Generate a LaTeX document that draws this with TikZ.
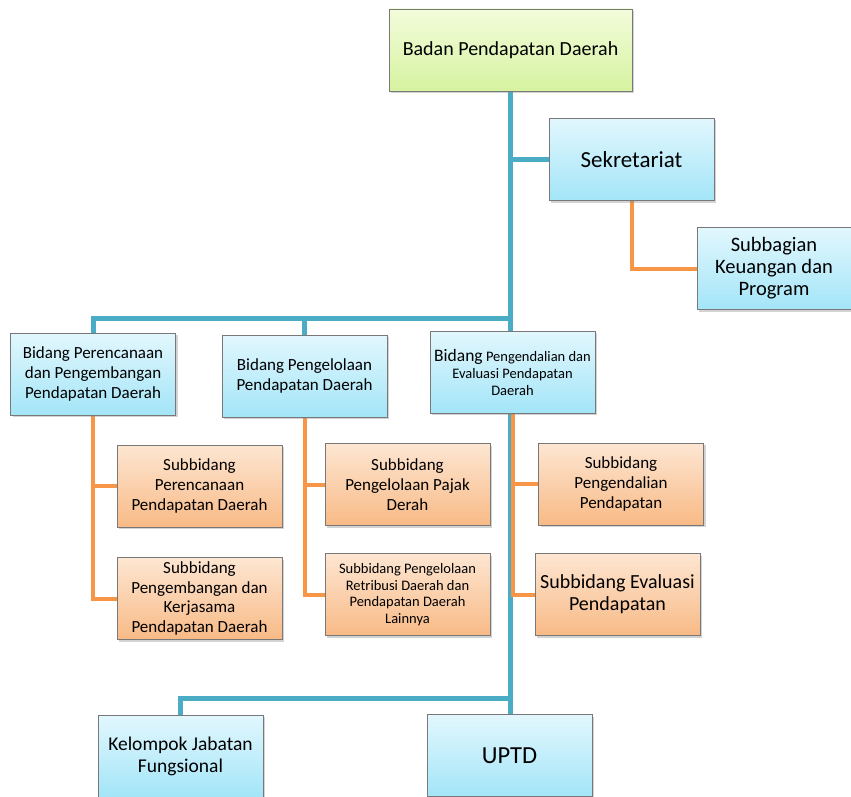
\documentclass[tikz,border=0pt]{standalone}
\usepackage{fontspec}
\setmainfont{Carlito}
\usepackage{tikz}
\usetikzlibrary{positioning}
\usetikzlibrary{shadows}
\usetikzlibrary{backgrounds}
\definecolor{boxgray}{RGB}{120,120,120}
\definecolor{trunkblue}{RGB}{75,172,198}
\definecolor{branchorange}{RGB}{247,150,70}
\tikzstyle{every node}+=[inner sep=0pt]
\tikzstyle{block} = [rectangle, draw=boxgray, line width=0.8pt, text centered, align=center, minimum width=165pt, minimum height=82pt, drop shadow={shadow xshift=2pt, shadow yshift=-2pt, opacity=0.35}]
\tikzstyle{headbox} = [block, top color={rgb,255:red,243;green,252;blue,219}, bottom color={rgb,255:red,214;green,243;blue,160}]
\tikzstyle{bluebox} = [block, top color={rgb,255:red,226;green,247;blue,253}, bottom color={rgb,255:red,163;green,229;blue,248}]
\tikzstyle{subbox} = [block, top color={rgb,255:red,253;green,230;blue,210}, bottom color={rgb,255:red,248;green,186;blue,134}]
\tikzstyle{bline} = [draw, trunkblue, line width=5pt]
\tikzstyle{oline} = [draw, branchorange, line width=4pt]
\newcommand{\fs}[2]{\fontsize{#1}{#2}\selectfont}

\begin{document}
\begin{tikzpicture}[x=1pt, y=-1pt]
            \useasboundingbox (0,0) rectangle (851,797);
            % Place nodes
            \node [headbox, minimum width=243pt, font=\fs{20}{24}] (top) at (510.5,50) {Badan Pendapatan Daerah};
            \node [bluebox, font=\fs{23}{27}] (sek) at (631.5,159.5) {Sekretariat};
            \node [bluebox, minimum width=154pt, font=\fs{20.5}{22}] (subbag) at (774,268.5) {Subbagian\\Keuangan dan\\Program};
            \node [bluebox, font=\fs{17}{20}] (bid1) at (93,374) {Bidang Perencanaan\\dan Pengembangan\\Pendapatan Daerah};
            \node [bluebox, font=\fs{17}{20}] (bid2) at (304.5,376) {Bidang Pengelolaan\\Pendapatan Daerah};
            \node [bluebox, font=\fs{14.5}{17}] (bid3) at (512.5,372) {{\fs{17.5}{17}Bidang} Pengendalian dan\\Evaluasi Pendapatan\\Daerah};
            \node [subbox, font=\fs{17}{20}] (sb11) at (199.5,486) {Subbidang\\Perencanaan\\Pendapatan Daerah};
            \node [subbox, font=\fs{17}{19.5}] (sb12) at (199.5,598.5) {Subbidang\\Pengembangan dan\\Kerjasama\\Pendapatan Daerah};
            \node [subbox, font=\fs{17}{20}] (sb21) at (407.5,484.5) {Subbidang\\Pengelolaan Pajak\\Derah};
            \node [subbox, font=\fs{14.5}{16.5}] (sb22) at (407.5,594.5) {Subbidang Pengelolaan\\Retribusi Daerah dan\\Pendapatan Daerah\\Lainnya};
            \node [subbox, font=\fs{17}{20}] (sb31) at (621,484) {Subbidang\\Pengendalian\\Pendapatan};
            \node [subbox, font=\fs{20}{22}] (sb32) at (617.5,594.5) {Subbidang Evaluasi\\Pendapatan};
            \node [bluebox, font=\fs{19.5}{22}] (kel) at (180.5,756) {Kelompok Jabatan\\Fungsional};
            \node [bluebox, font=\fs{24.5}{27}] (uptd) at (509.5,755.5) {UPTD};
            \coordinate (bus) at (511,318);
            \coordinate (bus2) at (511,698);
            % Draw edges
            \begin{scope}[on background layer]
            \path [bline] (top.south) -- (top.south |- uptd.north);
            \path [bline] (top.south |- sek.west) -- (sek.west);
            \path [bline] (bid1.north) |- (bus);
            \path [bline] (bid2.north) -- (bid2.north |- bus);
            \path [bline] (kel.north) |- (bus2);
            \path [oline] (sek.south) |- (subbag.west);
            \path [oline] (bid1.south) |- (sb12.west);
            \path [oline] (bid1.south |- sb11.west) -- (sb11.west);
            \path [oline] (bid2.south) |- (sb22.west);
            \path [oline] (bid2.south |- sb21.west) -- (sb21.west);
            \path [oline] (bid3.south) |- (sb32.west);
            \path [oline] (bid3.south |- sb31.west) -- (sb31.west);
            \end{scope}
\end{tikzpicture}
\end{document}
